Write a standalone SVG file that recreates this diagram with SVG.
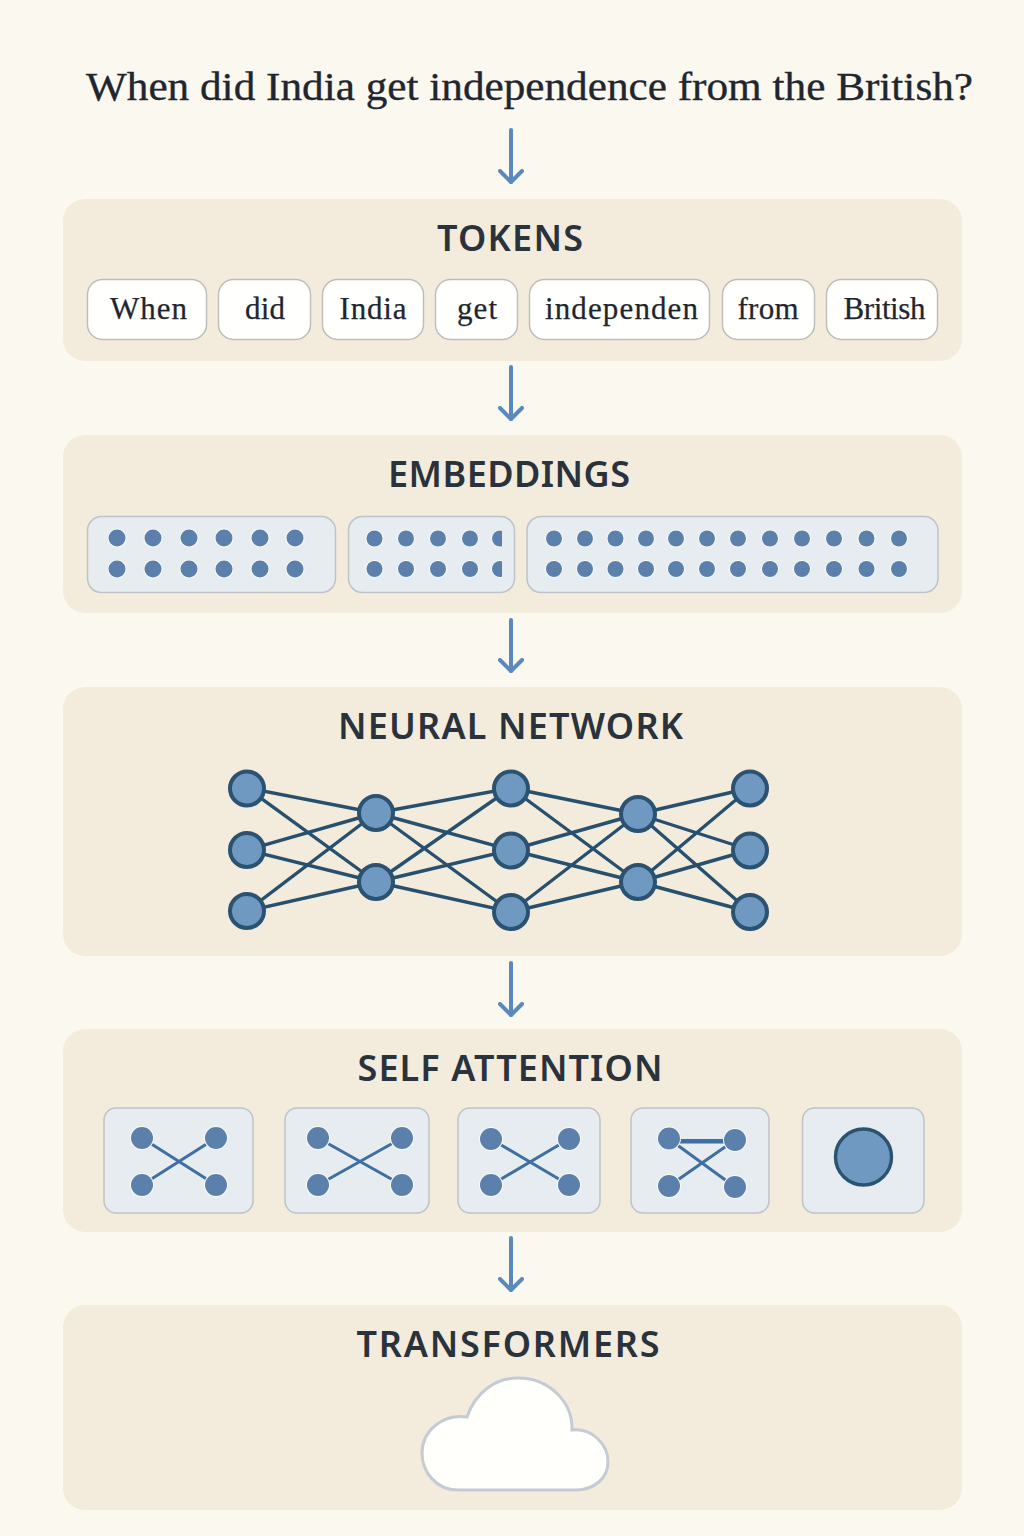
<svg xmlns="http://www.w3.org/2000/svg" width="1024" height="1536" viewBox="0 0 1024 1536">
<style>
.panel{fill:#f3ecdd}
.title{font-family:"Noto Sans","Open Sans",sans-serif;font-weight:600;font-size:36px;fill:#2a323c;text-anchor:middle}
.q{font-family:"Liberation Serif",serif;font-size:40px;fill:#1f2630;stroke:#1f2630;stroke-width:.35}
.tok{fill:#fffffd;stroke:#bcbcb8;stroke-width:1.4}
.tt{font-family:"Liberation Serif",serif;font-size:31px;fill:#1f2630;text-anchor:middle;stroke:#1f2630;stroke-width:.25}
.box{fill:#e7ecf0;stroke:#bcc3c9;stroke-width:1.5}
.dot{fill:#5a80ab;stroke:#fbfbf8;stroke-width:2;paint-order:stroke}
.arrow{fill:none;stroke:#5a8abd;stroke-width:4;stroke-linecap:round;stroke-linejoin:round}
.edge{stroke:#27506f;stroke-width:3.4;fill:none}
.nn{fill:#7099c2;stroke:#2b5270;stroke-width:4}
.al{stroke:#3e6fa3;stroke-width:3;fill:none}
</style>
<defs>
<clipPath id="clip2"><rect x="350" y="518" width="152" height="74"/></clipPath>
<marker id="head" viewBox="-13 -13 16 26" refX="0" refY="0" markerUnits="userSpaceOnUse" markerWidth="16" markerHeight="26" orient="auto">
<path d="M-11,-11 L0,0 L-11,11" fill="none" stroke="#5a8abd" stroke-width="4" stroke-linecap="round" stroke-linejoin="round"/>
</marker>
</defs>
<rect width="1024" height="1536" fill="#fbf8ef"/>

<g id="question">
<text class="q" x="86" y="100" textLength="887" lengthAdjust="spacingAndGlyphs">When did India get independence from the British?</text>
</g>

<g id="tokens">
<rect class="panel" x="63" y="199" width="899" height="162" rx="22"/>
<text class="title" x="510" y="251" textLength="146" lengthAdjust="spacing">TOKENS</text>
<rect class="tok" x="87.500" y="279.500" width="119" height="60" rx="15"/><text class="tt" x="148.500" y="319" textLength="77">When</text>
<rect class="tok" x="218.500" y="279.500" width="92" height="60" rx="15"/><text class="tt" x="265" y="319" textLength="40">did</text>
<rect class="tok" x="322.500" y="279.500" width="101" height="60" rx="15"/><text class="tt" x="373" y="319" textLength="67">India</text>
<rect class="tok" x="435.500" y="279.500" width="82" height="60" rx="15"/><text class="tt" x="477" y="319" textLength="40">get</text>
<rect class="tok" x="529.500" y="279.500" width="180" height="60" rx="15"/><text class="tt" x="621.500" y="319" textLength="153">independen</text>
<rect class="tok" x="722.500" y="279.500" width="92" height="60" rx="15"/><text class="tt" x="768" y="319" textLength="61">from</text>
<rect class="tok" x="826.500" y="279.500" width="111" height="60" rx="15"/><text class="tt" x="884.500" y="319" textLength="82">British</text>
</g>

<g id="embeddings">
<rect class="panel" x="63" y="435" width="899" height="178" rx="22"/>
<text class="title" x="509" y="487" textLength="242" lengthAdjust="spacing">EMBEDDINGS</text>
<rect class="box" x="87.500" y="516.500" width="248" height="76" rx="14"/>
<rect class="box" x="348.500" y="516.500" width="166" height="76" rx="14"/>
<rect class="box" x="527" y="516.500" width="411" height="76" rx="14"/>
<g class="dot">
<circle cx="117" cy="538" r="8.500"/><circle cx="153" cy="538" r="8.500"/><circle cx="189" cy="538" r="8.500"/><circle cx="224" cy="538" r="8.500"/><circle cx="260" cy="538" r="8.500"/><circle cx="295" cy="538" r="8.500"/>
<circle cx="117" cy="569" r="8.500"/><circle cx="153" cy="569" r="8.500"/><circle cx="189" cy="569" r="8.500"/><circle cx="224" cy="569" r="8.500"/><circle cx="260" cy="569" r="8.500"/><circle cx="295" cy="569" r="8.500"/>
<circle cx="374.500" cy="538.500" r="8"/><circle cx="406" cy="538.500" r="8"/><circle cx="438" cy="538.500" r="8"/><circle cx="470" cy="538.500" r="8"/>
<circle cx="374.500" cy="569" r="8"/><circle cx="406" cy="569" r="8"/><circle cx="438" cy="569" r="8"/><circle cx="470" cy="569" r="8"/>
<g clip-path="url(#clip2)"><circle cx="500" cy="538.500" r="8"/><circle cx="500" cy="569" r="8"/></g>
<circle cx="554" cy="538.500" r="8"/><circle cx="585" cy="538.500" r="8"/><circle cx="615.500" cy="538.500" r="8"/><circle cx="646" cy="538.500" r="8"/><circle cx="676" cy="538.500" r="8"/><circle cx="707" cy="538.500" r="8"/><circle cx="738" cy="538.500" r="8"/><circle cx="770" cy="538.500" r="8"/><circle cx="802" cy="538.500" r="8"/><circle cx="834" cy="538.500" r="8"/><circle cx="866.500" cy="538.500" r="8"/><circle cx="899" cy="538.500" r="8"/>
<circle cx="554" cy="569" r="8"/><circle cx="585" cy="569" r="8"/><circle cx="615.500" cy="569" r="8"/><circle cx="646" cy="569" r="8"/><circle cx="676" cy="569" r="8"/><circle cx="707" cy="569" r="8"/><circle cx="738" cy="569" r="8"/><circle cx="770" cy="569" r="8"/><circle cx="802" cy="569" r="8"/><circle cx="834" cy="569" r="8"/><circle cx="866.500" cy="569" r="8"/><circle cx="899" cy="569" r="8"/>
</g>
</g>

<g id="neural-network">
<rect class="panel" x="63" y="687" width="899" height="269" rx="22"/>
<text class="title" x="510.500" y="739" textLength="345" lengthAdjust="spacing">NEURAL NETWORK</text>
<g id="nn-edges" class="edge">
<path d="M247 788L376 813M247 788L376 882M247 850L376 813M247 850L376 882M247 911L376 813M247 911L376 882"/>
<path d="M376 813L511 788M376 813L511 850M376 813L511 912M376 882L511 788M376 882L511 850M376 882L511 912"/>
<path d="M511 788L638 814M511 788L638 882M511 850L638 814M511 850L638 882M511 912L638 814M511 912L638 882"/>
<path d="M638 814L750 788M638 814L750 850M638 814L750 912M638 882L750 788M638 882L750 850M638 882L750 912"/>
</g>
<g class="nn">
<circle cx="247" cy="788.500" r="17"/><circle cx="247" cy="850" r="17"/><circle cx="247" cy="911" r="17"/>
<circle cx="376" cy="813" r="17"/><circle cx="376" cy="882" r="17"/>
<circle cx="511" cy="788.500" r="17"/><circle cx="511" cy="850.500" r="17"/><circle cx="511" cy="912" r="17"/>
<circle cx="638" cy="814" r="17"/><circle cx="638" cy="882" r="17"/>
<circle cx="750" cy="788.500" r="17"/><circle cx="750" cy="850.500" r="17"/><circle cx="750" cy="912" r="17"/>
</g>
</g>

<g id="self-attention">
<rect class="panel" x="63" y="1029" width="899" height="203" rx="22"/>
<text class="title" x="510" y="1081" textLength="305" lengthAdjust="spacing">SELF ATTENTION</text>
<g id="attn-1">
<rect class="box" x="104" y="1108" width="149" height="105" rx="12"/>
<path class="al" d="M142 1138L216 1185M216 1138L142 1185"/>
<g class="dot"><circle cx="142" cy="1138" r="11"/><circle cx="216" cy="1138" r="11"/><circle cx="142" cy="1185" r="11"/><circle cx="216" cy="1185" r="11"/></g>
</g>
<g id="attn-2">
<rect class="box" x="285" y="1108" width="144" height="105" rx="12"/>
<path class="al" d="M318 1138L402 1185M402 1138L318 1185"/>
<g class="dot"><circle cx="318" cy="1138" r="11"/><circle cx="402" cy="1138" r="11"/><circle cx="318" cy="1185" r="11"/><circle cx="402" cy="1185" r="11"/></g>
</g>
<g id="attn-3">
<rect class="box" x="458" y="1108" width="142" height="105" rx="12"/>
<path class="al" d="M491 1139L569 1185M569 1139L491 1185"/>
<g class="dot"><circle cx="491" cy="1139" r="11"/><circle cx="569" cy="1139" r="11"/><circle cx="491" cy="1185" r="11"/><circle cx="569" cy="1185" r="11"/></g>
</g>
<g id="attn-4">
<rect class="box" x="631" y="1108" width="138" height="105" rx="12"/>
<path class="al" d="M669 1139L735 1187M735 1140L669 1186M669 1140.500L735 1140.500"/>
<path d="M669 1141.500H735" stroke="#3e6fa3" stroke-width="4" fill="none"/>
<g class="dot"><circle cx="669" cy="1138.500" r="11"/><circle cx="735" cy="1140" r="11"/><circle cx="669" cy="1186" r="11"/><circle cx="735" cy="1187" r="11"/></g>
</g>
<g id="attn-5">
<rect class="box" x="802.500" y="1108" width="121.500" height="105" rx="12"/>
<circle cx="863.500" cy="1157" r="28" fill="#7099c2" stroke="#2b5270" stroke-width="3.400"/>
</g>
</g>

<g id="transformers">
<rect class="panel" x="63" y="1305" width="899" height="205" rx="22"/>
<text class="title" x="508" y="1357" textLength="303" lengthAdjust="spacing">TRANSFORMERS</text>
<path d="M458 1490C436 1490 422 1472 422 1453C422 1431 442 1414 467 1417C475 1393 495 1378 518 1378C549 1378 573 1402 572 1430C592 1428 608 1444 608 1462C608 1478 594 1490 576 1490Z" fill="#fffffb" stroke="#c3cbd3" stroke-width="3"/>
</g>

<g id="connectors" class="arrow">
<path d="M511 130V182" marker-end="url(#head)"/>
<path d="M511 367V419" marker-end="url(#head)"/>
<path d="M511 620V671" marker-end="url(#head)"/>
<path d="M511 963V1015" marker-end="url(#head)"/>
<path d="M511 1238V1290" marker-end="url(#head)"/>
</g>
</svg>
